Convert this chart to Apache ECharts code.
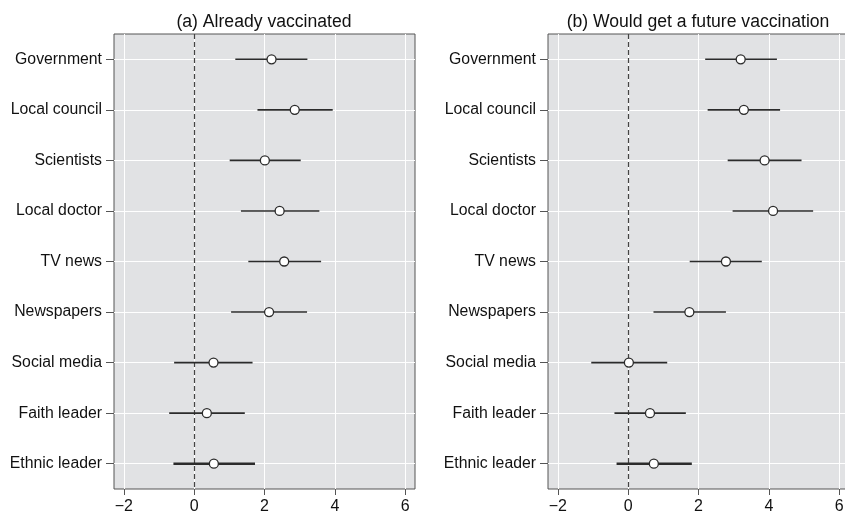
<!DOCTYPE html>
<html>
<head>
<meta charset="utf-8">
<script src="https://cdn.jsdelivr.net/npm/echarts@6/dist/echarts.min.js"></script>
<style>
html, body { margin: 0; padding: 0; background: #fff; }
#chart { width: 845px; height: 511px; }
</style>
</head>
<body>
<div id="chart"></div>
<script>
var categories = ['Government', 'Local council', 'Scientists', 'Local doctor', 'TV news',
    'Newspapers', 'Social media', 'Faith leader', 'Ethnic leader'];
var xTicks = [-2, 0, 2, 4, 6];
var titles = ['(a) Already vaccinated', '(b) Would get a future vaccination'];

// (a) already vaccinated
var aEst  = [2.20, 2.86, 2.01, 2.43, 2.56, 2.13, 0.55, 0.36, 0.56];
var aLow  = [1.17, 1.80, 1.01, 1.33, 1.54, 1.05, -0.57, -0.71, -0.59];
var aHigh = [3.22, 3.94, 3.03, 3.56, 3.61, 3.21, 1.66, 1.44, 1.73];

// (b) would get a future vaccination
var bEst  = [3.20, 3.29, 3.88, 4.12, 2.78, 1.74, 0.02, 0.62, 0.73];
var bLow  = [2.19, 2.26, 2.83, 2.97, 1.75, 0.72, -1.05, -0.39, -0.33];
var bHigh = [4.23, 4.32, 4.93, 5.26, 3.80, 2.78, 1.11, 1.64, 1.81];

var boldRows = ['Ethnic leader'];

var font = 'Liberation Sans, Arial, Helvetica, sans-serif';
var panelLeft = [114, 548];

function renderBar(params, api) {
    var row = api.value(2);
    var p0 = api.coord([api.value(0), row]);
    var p1 = api.coord([api.value(1), row]);
    var bold = boldRows.indexOf(categories[row]) >= 0;
    return {
        type: 'line',
        shape: { x1: p0[0], y1: p0[1], x2: p1[0], y2: p1[1] },
        style: { stroke: '#2b2b2b', lineWidth: bold ? 2.6 : 1.6 }
    };
}

function panelSeries(i, est, low, high) {
    var bars = categories.map(function (c, k) { return [low[k], high[k], k]; });
    var pts = categories.map(function (c, k) { return [est[k], c]; });
    return [
        {
            type: 'custom',
            xAxisIndex: i, yAxisIndex: i,
            renderItem: renderBar,
            encode: { x: [0, 1], y: 2 },
            data: bars,
            silent: true
        },
        {
            type: 'scatter',
            xAxisIndex: i, yAxisIndex: i,
            symbol: 'circle',
            symbolSize: 9,
            itemStyle: { color: '#fff', borderColor: '#2b2b2b', borderWidth: 1.3, opacity: 1 },
            data: pts,
            silent: true,
            markLine: {
                silent: true,
                symbol: 'none',
                z: 1,
                label: { show: false },
                lineStyle: { color: '#444', width: 1.2, type: [5, 3] },
                data: [{ xAxis: 0 }]
            }
        }
    ];
}

var grids = [], xAxes = [], yAxes = [], titleList = [];
for (var i = 0; i < 2; i++) {
    grids.push({
        left: panelLeft[i], top: 34, width: 301, height: 455,
        outerBoundsMode: 'none', containLabel: false,
        show: true, backgroundColor: '#e1e2e4', borderColor: '#555', borderWidth: 1
    });
    xAxes.push({
        gridIndex: i, type: 'value', min: -2.28, max: 6.28,
        axisLine: { show: false, onZero: false },
        axisTick: { show: true, length: 6, customValues: xTicks, lineStyle: { color: '#555' } },
        axisLabel: {
            customValues: xTicks, margin: 10, fontSize: 16, color: '#111', fontFamily: font,
            formatter: function (v) { return String(v).replace('-', '\u2212'); }
        },
        splitLine: { show: true, lineStyle: { color: '#fff', width: 1 } }
    });
    yAxes.push({
        gridIndex: i, type: 'category', data: categories, inverse: true,
        axisLine: { show: false, onZero: false },
        axisTick: { show: true, alignWithLabel: true, length: 8, lineStyle: { color: '#555' } },
        axisLabel: { margin: 12, fontSize: 15.8, color: '#111', fontFamily: font },
        splitLine: { show: true, alignWithLabel: true, lineStyle: { color: '#fff', width: 1 } }
    });
    titleList.push({
        text: titles[i], left: panelLeft[i] + 150, top: 13, textAlign: 'center', padding: 0,
        textStyle: { fontSize: 17.6, fontWeight: 'normal', color: '#111', fontFamily: font }
    });
}

var option = {
    animation: false,
    title: titleList,
    grid: grids,
    xAxis: xAxes,
    yAxis: yAxes,
    series: panelSeries(0, aEst, aLow, aHigh).concat(panelSeries(1, bEst, bLow, bHigh))
};

var myChart = echarts.init(document.getElementById('chart'));
myChart.setOption(option);
</script>
</body>
</html>
